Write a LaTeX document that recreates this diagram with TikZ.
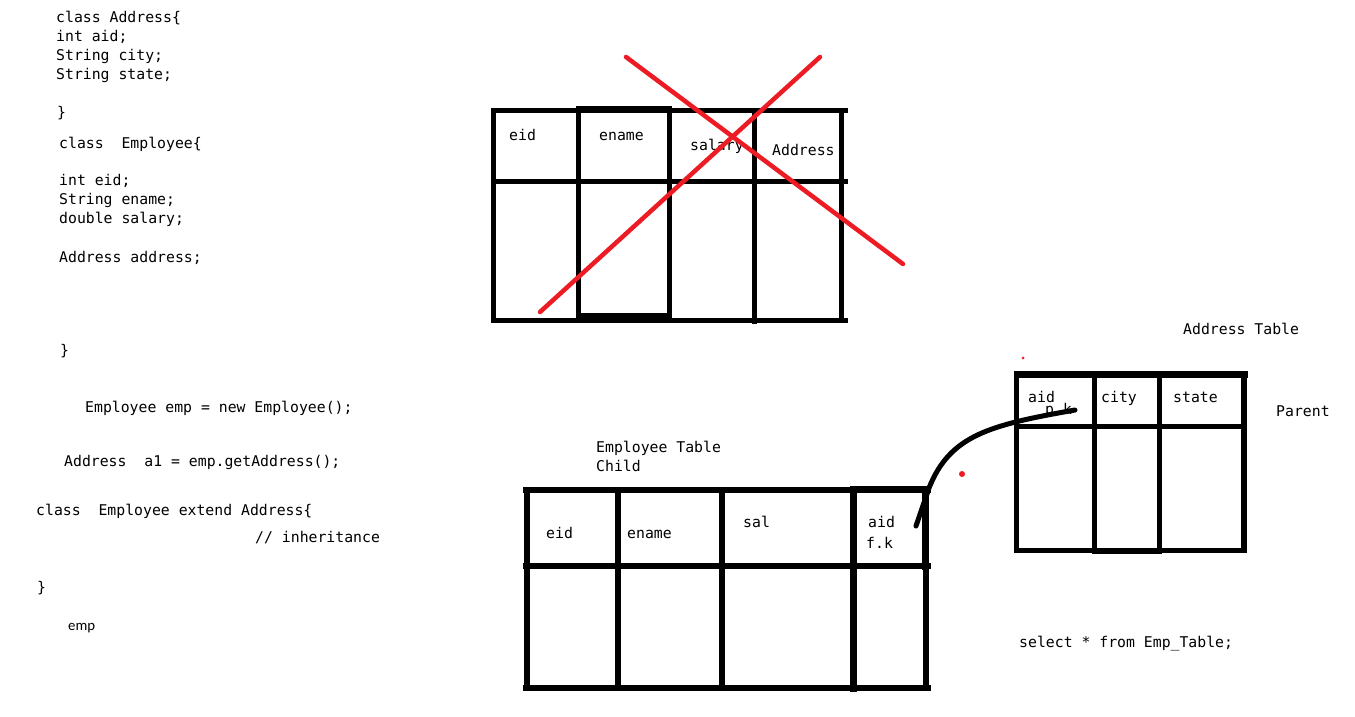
\documentclass[tikz,border=0pt]{standalone}
\usepackage{fontspec}
\setmonofont{DejaVu Sans Mono}
\newfontfamily\notefont{Carlito}
\definecolor{paintred}{RGB}{237,28,36}
\tikzset{
  codeline/.style={anchor=base west,inner sep=0pt,font=\ttfamily\fontsize{14.8}{19}\selectfont},
  noteline/.style={anchor=base west,inner sep=0pt,font=\notefont\fontsize{14.8}{19}\selectfont},
  tableline/.style={line width=5pt,line cap=rect},
  heavyline/.style={line width=6pt,line cap=rect},
  crossline/.style={paintred,line width=4.5pt,line cap=round}
}
\begin{document}
\begin{tikzpicture}[x=1pt,y=-1pt]
				\useasboundingbox[fill=white] (0,0) rectangle (1355,716);
				\node[codeline] (c1) at (56,22) {class Address\{};
				\node[codeline] (c2) at (56,41) {int aid;};
				\node[codeline] (c3) at (56,60) {String city;};
				\node[codeline] (c4) at (56,79) {String state;};
				\node[codeline] (c5) at (57,117) {\}};
				\node[codeline] (c6) at (59,148) {class\ \ Employee\{};
				\node[codeline] (c7) at (59,185) {int eid;};
				\node[codeline] (c8) at (59,204) {String ename;};
				\node[codeline] (c9) at (59,223) {double salary;};
				\node[codeline] (c10) at (59,262) {Address address;};
				\node[codeline] (c11) at (60,355) {\}};
				\node[codeline] (c12) at (85,412) {Employee emp = new Employee();};
				\node[codeline] (c13) at (64,466) {Address\ \ a1 = emp.getAddress();};
				\node[codeline] (c14) at (36,515) {class\ \ Employee extend Address\{};
				\node[codeline] (c15) at (255,542) {// inheritance};
				\node[codeline] (c16) at (37,592) {\}};
				\node[noteline] (n1) at (68,630) {emp};
				\draw[tableline] (493,110) -- (845,110);
				\draw[tableline] (578,108) -- (669,108);
				\draw[tableline] (493,181) -- (845,181);
				\draw[tableline] (493,320) -- (845,320);
				\draw[tableline] (578,315) -- (669,315);
				\draw[tableline] (493,110) -- (493,320);
				\draw[tableline] (578,108) -- (578,315);
				\draw[tableline] (669.5,108) -- (669.5,315);
				\draw[tableline] (754,110) -- (754,321);
				\draw[tableline] (841,110) -- (841,320);
				\node[codeline] (t1) at (509,140) {eid};
				\node[codeline] (t2) at (599,140) {ename};
				\node[codeline] (t3) at (690,150) {salary};
				\node[codeline] (t4) at (772,155) {Address};
				\draw[crossline] (626,57) -- (903,264);
				\draw[crossline] (820,57) -- (540,312);
				\node[codeline] (e0) at (596,452) {Employee Table};
				\node[codeline] (e00) at (596,471) {Child};
				\draw[heavyline] (526,490) -- (928,490);
				\draw[heavyline] (853,489) -- (928,489);
				\draw[heavyline] (526,566) -- (928,566);
				\draw[heavyline] (526,688) -- (928,688);
				\draw[heavyline] (527,490) -- (527,688);
				\draw[heavyline] (617.5,490) -- (617.5,688);
				\draw[heavyline] (721.5,490) -- (721.5,688);
				\draw[heavyline,line width=7pt] (853.5,490) -- (853.5,688);
				\draw[heavyline,line width=7pt] (925.5,490) -- (925.5,566);
				\draw[heavyline] (926,566) -- (926,688);
				\node[codeline] (e1) at (546,538) {eid};
				\node[codeline] (e2) at (627,538) {ename};
				\node[codeline] (e3) at (743,527) {sal};
				\node[codeline] (e4) at (868,527) {aid};
				\node[codeline] (e5) at (866,548) {f.k};
				\node[codeline] (a0) at (1183,334) {Address Table};
				\node[codeline] (a00) at (1276,416) {Parent};
				\draw[heavyline,line width=7pt] (1017,374) -- (1244,374);
				\draw[heavyline,line width=5pt] (1017,426) -- (1244,426);
				\draw[heavyline,line width=5pt] (1017,550) -- (1244,550);
				\draw[heavyline] (1095,551) -- (1159,551);
				\draw[heavyline,line width=5pt] (1016.5,374) -- (1016.5,550);
				\draw[heavyline,line width=5pt] (1094.5,374) -- (1094.5,551);
				\draw[heavyline,line width=5pt] (1159.5,374) -- (1159.5,551);
				\draw[heavyline] (1244,374) -- (1244,550);
				\node[codeline] (a1) at (1028,402) {aid};
				\node[codeline] (a2) at (1045,414) {p.k};
				\node[codeline] (a3) at (1101,402) {city};
				\node[codeline] (a4) at (1173,402) {state};
				\node[codeline] (q1) at (1019,647) {select * from Emp\_Table;};
				\coordinate (fk) at (916,526);
				\coordinate (pk) at (1075,410);
				\draw[line width=5pt,line cap=round] (fk) -- (929,488) .. controls (950,435) and (990,425) .. (pk);
				\fill[paintred] (962,474) circle (3);
				\fill[paintred] (1023,358) circle (1.5);
			\end{tikzpicture}
\end{document}
